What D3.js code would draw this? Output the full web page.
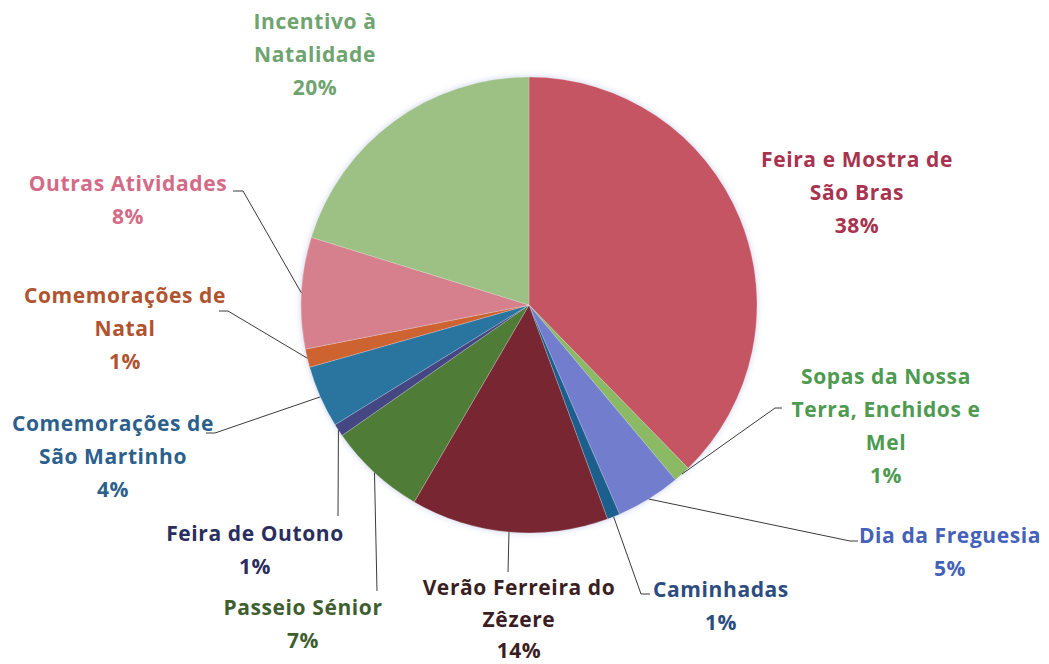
<!DOCTYPE html>
<html>
<head>
<meta charset="utf-8">
<script src="https://cdn.jsdelivr.net/npm/d3@7"></script>
<style>
  body { margin: 0; background: #fff; }
  text { font-family: "Open Sans", sans-serif; font-weight: bold; font-size: 21px; letter-spacing: 0.6px; }
</style>
</head>
<body>
<svg id="chart" width="1049" height="664"></svg>
<script>
// data, clockwise from 12 o'clock
var categories = ["Feira e Mostra de São Bras", "Sopas da Nossa Terra, Enchidos e Mel", "Dia da Freguesia",
                  "Caminhadas", "Verão Ferreira do Zêzere", "Passeio Sénior", "Feira de Outono",
                  "Comemorações de São Martinho", "Comemorações de Natal", "Outras Atividades", "Incentivo à Natalidade"];
var values = [37.7, 1.2, 4.6, 0.9, 14.0, 6.9, 0.9, 4.4, 1.3, 7.9, 20.2];
// how the category names wrap in the labels
var labelLines = [["Feira e Mostra de", "São Bras"], ["Sopas da Nossa", "Terra, Enchidos e", "Mel"], ["Dia da Freguesia"],
                  ["Caminhadas"], ["Verão Ferreira do", "Zêzere"], ["Passeio Sénior"], ["Feira de Outono"],
                  ["Comemorações de", "São Martinho"], ["Comemorações de", "Natal"], ["Outras Atividades"], ["Incentivo à", "Natalidade"]];

var sliceColors = ["#C55564", "#8CB964", "#737DCD", "#1B5F8C", "#782832", "#507D37", "#444682",
                   "#2C74A0", "#CE6432", "#D6808E", "#9DC184"];
var textColors  = ["#A8334F", "#4E9A50", "#4562B8", "#2B4C80", "#3A1E22", "#3F5E30", "#2A2E5E",
                   "#2D5F8C", "#B0532F", "#D36B88", "#6FA36F"];

// label placement: x centre, y of first line centre, line step, leader elbow + end (null = no leader)
var labelPos = [
  {x: 857, y: 160, dy: 33, leader: null},
  {x: 886, y: 377, dy: 33, leader: [[775, 408], [782, 408]]},
  {x: 950, y: 536, dy: 33, leader: [[850, 541], [858, 541]]},
  {x: 721, y: 590, dy: 33, leader: [[641, 594], [650, 594]]},
  {x: 519, y: 588, dy: 31.5, leader: [[508, 572]]},
  {x: 303, y: 608, dy: 33, leader: [[377, 591]]},
  {x: 255, y: 534, dy: 33, leader: [[338, 516]]},
  {x: 113, y: 424, dy: 33, leader: [[215, 433], [206, 433]]},
  {x: 125, y: 296, dy: 33, leader: [[228, 311], [219, 311]]},
  {x: 128, y: 184, dy: 33, leader: [[243, 191], [233, 191]]},
  {x: 315, y: 22,  dy: 33, leader: null}
];

var svg = d3.select('#chart'),
    cx = 529, cy = 305, r = 228;

var total = d3.sum(values);
var data = categories.map(function(c, i) { return {name: c, value: values[i], i: i}; });

var pie = d3.pie().sort(null).value(function(d) { return d.value; });
var arc = d3.arc().innerRadius(0).outerRadius(r);
var arcs = pie(data);

// soft bluish halo around the pie
var glow = svg.append('defs').append('filter').attr('id', 'glow')
    .attr('x', '-10%').attr('y', '-10%').attr('width', '120%').attr('height', '120%');
glow.append('feGaussianBlur').attr('in', 'SourceAlpha').attr('stdDeviation', 3).attr('result', 'blur');
glow.append('feFlood').attr('flood-color', '#a8b4e0').attr('flood-opacity', 0.6).attr('result', 'col');
glow.append('feComposite').attr('in', 'col').attr('in2', 'blur').attr('operator', 'in').attr('result', 'halo');
var merge = glow.append('feMerge');
merge.append('feMergeNode').attr('in', 'halo');
merge.append('feMergeNode').attr('in', 'SourceGraphic');

var g = svg.append('g').attr('transform', 'translate(' + cx + ',' + cy + ')');

g.append('g').attr('filter', 'url(#glow)')
  .selectAll('path')
  .data(arcs)
  .enter().append('path')
    .attr('d', arc)
    .attr('fill', function(d) { return sliceColors[d.data.i]; })
    .attr('stroke', '#ffffff')
    .attr('stroke-opacity', 0.35)
    .attr('stroke-width', 0.6);

// leader lines from the slice edge at its mid angle
arcs.forEach(function(d) {
  var lp = labelPos[d.data.i];
  if (!lp.leader) return;
  var a = (d.startAngle + d.endAngle) / 2;
  var pts = [[cx + r * Math.sin(a), cy - r * Math.cos(a)]].concat(lp.leader);
  svg.append('path')
    .attr('d', d3.line()(pts))
    .attr('fill', 'none')
    .attr('stroke', '#3a3a3a')
    .attr('stroke-width', 1);
});

// labels
arcs.forEach(function(d) {
  var i = d.data.i, lp = labelPos[i];
  var lines = labelLines[i].concat([Math.round(d.data.value / total * 100) + '%']);
  var t = svg.append('text')
    .attr('text-anchor', 'middle')
    .attr('fill', textColors[i]);
  lines.forEach(function(s, k) {
    t.append('tspan')
      .attr('x', lp.x)
      .attr('y', lp.y + k * lp.dy + 7)
      .text(s);
  });
});
</script>
</body>
</html>
